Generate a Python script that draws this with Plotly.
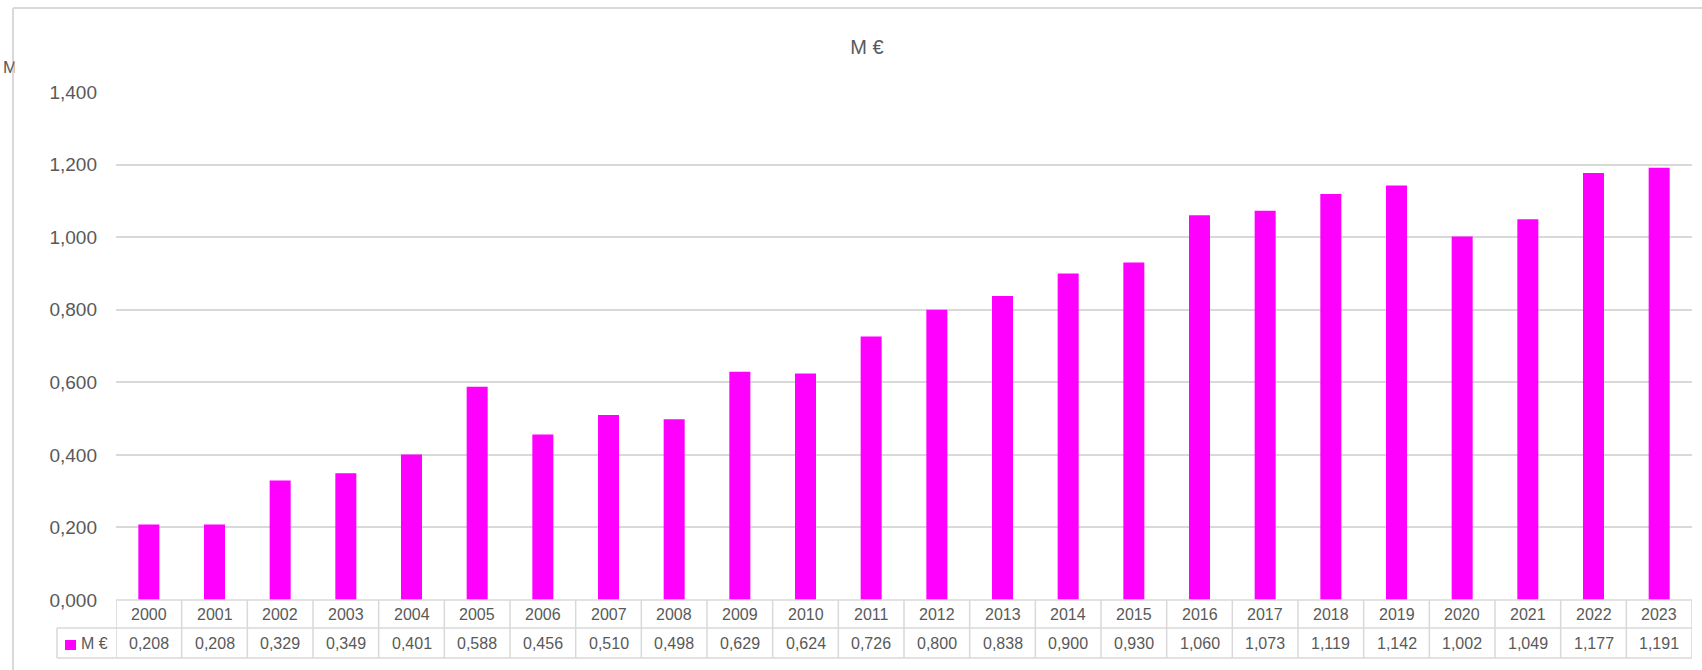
import plotly.graph_objects as go

years = [str(y) for y in range(2000, 2024)]
values = [0.208, 0.208, 0.329, 0.349, 0.401, 0.588, 0.456, 0.510, 0.498, 0.629,
          0.624, 0.726, 0.800, 0.838, 0.900, 0.930, 1.060, 1.073, 1.119, 1.142,
          1.002, 1.049, 1.177, 1.191]
series_name = "M €"
y_ticks = [0, 0.2, 0.4, 0.6, 0.8, 1.0, 1.2, 1.4]

W, H = 1702, 670
ML, MR, MT, MB = 116, 10, 92, 70
PW, PH = W - ML - MR, H - MT - MB

def px_x(x):
    return (x - ML) / PW

def px_y(y):
    return (H - MB - y) / PH

FONT = "Liberation Sans"
TXT = "#595959"
GRID = "#d9d9d9"
MAG = "#FF00FF"

fig = go.Figure()
fig.add_trace(go.Bar(x=years, y=values, marker=dict(color=MAG, line=dict(width=0)),
                     name=series_name, showlegend=False))

shapes = []
annotations = []
n = len(years)
row_top, row_mid, row_bot = px_y(600), px_y(628), px_y(658)
left_val = px_x(57)

# horizontal table lines
shapes.append(dict(type="line", xref="x", yref="paper", x0=-0.5, x1=n - 0.5,
                   y0=row_top, y1=row_top, line=dict(color=GRID, width=1.5)))
for yy in (row_mid, row_bot):
    shapes.append(dict(type="line", xref="paper", yref="paper", x0=left_val, x1=1,
                       y0=yy, y1=yy, line=dict(color=GRID, width=1.5)))
# vertical table lines
for i in range(n + 1):
    shapes.append(dict(type="line", xref="x", yref="paper", x0=i - 0.5, x1=i - 0.5,
                       y0=row_top, y1=row_bot, line=dict(color=GRID, width=1.5)))
shapes.append(dict(type="line", xref="paper", yref="paper", x0=left_val, x1=left_val,
                   y0=row_mid, y1=row_bot, line=dict(color=GRID, width=1.5)))
# legend key
shapes.append(dict(type="rect", xref="paper", yref="paper", x0=px_x(65), x1=px_x(76),
                   y0=px_y(650), y1=px_y(640), fillcolor=MAG, line=dict(width=0)))
# chart area border
shapes.append(dict(type="line", xref="paper", yref="paper", x0=px_x(13), x1=px_x(13),
                   y0=px_y(8), y1=px_y(690), line=dict(color=GRID, width=2)))
shapes.append(dict(type="line", xref="paper", yref="paper", x0=px_x(13), x1=px_x(1720),
                   y0=px_y(8), y1=px_y(8), line=dict(color=GRID, width=2)))

for i, (yr, v) in enumerate(zip(years, values)):
    annotations.append(dict(x=i, y=(row_top + row_mid) / 2, xref="x", yref="paper",
                            text=yr, showarrow=False, xanchor="center", yanchor="middle",
                            font=dict(family=FONT, size=16, color=TXT)))
    annotations.append(dict(x=i, y=(row_mid + row_bot) / 2, xref="x", yref="paper",
                            text=f"{v:.3f}".replace(".", ","), showarrow=False,
                            xanchor="center", yanchor="middle",
                            font=dict(family=FONT, size=16, color=TXT)))
annotations.append(dict(x=px_x(79), y=(row_mid + row_bot) / 2, xref="paper", yref="paper",
                        text=series_name, showarrow=False, xanchor="left", yanchor="middle",
                        font=dict(family=FONT, size=16, color=TXT)))
# clipped axis title fragment at far left (partly hidden behind the chart area)
annotations.append(dict(x=px_x(1), y=px_y(67), xref="paper", yref="paper",
                        text="M", showarrow=False, xanchor="left", yanchor="middle",
                        font=dict(family=FONT, size=17, color=TXT)))
annotations.append(dict(x=px_x(14), y=px_y(67), xref="paper", yref="paper",
                        text=" ", showarrow=False, xanchor="left", yanchor="middle",
                        width=8, height=26, bgcolor="white", borderpad=0,
                        font=dict(family=FONT, size=17, color=TXT)))

fig.update_layout(
    width=W, height=H,
    margin=dict(l=ML, r=MR, t=MT, b=MB),
    paper_bgcolor="white", plot_bgcolor="white",
    separators=",.",
    bargap=0.68,
    title=dict(text=series_name, x=px_x(867), xref="paper", xanchor="center",
               y=1 - 47 / H, yref="container", yanchor="middle",
               font=dict(family=FONT, size=20, color=TXT)),
    xaxis=dict(type="category", range=[-0.5, n - 0.5], showticklabels=False,
               showgrid=False, zeroline=False, showline=False, ticks=""),
    yaxis=dict(range=[0, 1.4], tickvals=y_ticks, tickformat=".3f",
               showgrid=True, gridcolor=GRID, gridwidth=2, zeroline=False,
               showline=False, ticks="", ticklabelstandoff=18,
               tickfont=dict(family=FONT, size=19, color=TXT)),
    shapes=shapes,
    annotations=annotations,
)

fig.write_html("out.html", config={"displayModeBar": False},
               post_script="document.body.style.margin='0';document.body.style.overflow='hidden';")
